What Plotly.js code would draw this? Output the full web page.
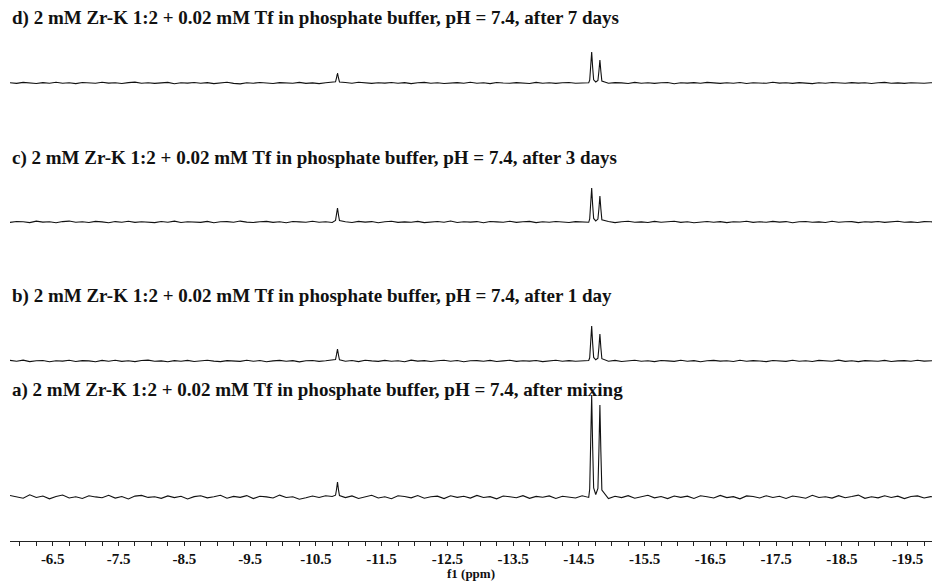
<!DOCTYPE html>
<html>
<head>
<meta charset="utf-8">
<script src="https://cdn.plot.ly/plotly-3.0.1.min.js"></script>
<style>html,body{margin:0;padding:0;background:#fff;}#chart{width:932px;height:581px;}</style>
</head>
<body>
<div id="chart"></div>
<script>
// chemical shift grid (ppm)
const ppm = [
-5.85,-5.95,-6.05,-6.15,-6.25,-6.35,-6.45,-6.55,-6.65,-6.75,-6.85,-6.95,-7.05,-7.15,-7.25,-7.35,-7.45,-7.55,-7.65,-7.75,-7.85,-7.95,-8.05,-8.15,-8.25,-8.35,-8.45,-8.55,-8.65,-8.75,-8.85,-8.95,-9.05,-9.15,-9.25,-9.35,-9.45,-9.55,-9.65,-9.75,-9.85,-9.95,-10.05,-10.15,-10.25,-10.35,-10.45,-10.55,-10.65,-10.75,
-10.80,-10.815,-10.83,-10.845,-10.86,
-10.95,-11.05,-11.15,-11.25,-11.35,-11.45,-11.55,-11.65,-11.75,-11.85,-11.95,-12.05,-12.15,-12.25,-12.35,-12.45,-12.55,-12.65,-12.75,-12.85,-12.95,-13.05,-13.15,-13.25,-13.35,-13.45,-13.55,-13.65,-13.75,-13.85,-13.95,-14.05,-14.15,-14.25,-14.35,-14.45,-14.55,-14.65,
-14.665,-14.68,-14.695,-14.71,-14.725,-14.757,-14.79,-14.805,-14.82,-14.835,-14.85,
-14.95,-15.05,-15.15,-15.25,-15.35,-15.45,-15.55,-15.65,-15.75,-15.85,-15.95,-16.05,-16.15,-16.25,-16.35,-16.45,-16.55,-16.65,-16.75,-16.85,-16.95,-17.05,-17.15,-17.25,-17.35,-17.45,-17.55,-17.65,-17.75,-17.85,-17.95,-18.05,-18.15,-18.25,-18.35,-18.45,-18.55,-18.65,-18.75,-18.85,-18.95,-19.05,-19.15,-19.25,-19.35,-19.45,-19.55,-19.65,-19.75,-19.85,-19.95
];

// intensities (arbitrary units)
const specD = [
0.3,-0.4,0.6,0.1,-0.5,0.4,-0.2,0.7,-0.3,0.2,-0.6,0.5,0.0,-0.3,0.8,-0.1,0.3,-0.5,0.4,0.9,-0.2,0.3,-0.4,0.1,0.6,-0.7,0.2,-0.1,0.5,-0.3,0.4,-0.6,0.2,0.7,-0.4,-0.9,0.3,-0.2,0.5,0.0,-0.5,0.4,0.2,-0.3,0.6,-0.4,0.1,-0.6,0.3,0.4,
1.2,5.2,10,5.0,1.0,
0.5,-0.2,0.8,0.3,-0.4,0.2,-0.1,0.5,-0.3,0.4,-0.6,0.2,0.6,-0.2,0.3,-0.5,0.1,0.4,-0.3,0.7,-0.2,0.2,-0.6,0.5,0.0,-0.3,0.4,0.1,-0.5,0.6,-0.2,0.3,-0.4,0.2,0.5,-0.3,0.1,0.3,
2.8,15.5,31,15.5,3.2,1.0,2.5,11.8,23,11.5,2.0,
-0.3,0.4,0.1,-0.5,0.6,-0.2,0.3,-0.4,0.2,0.5,-0.8,0.3,-0.1,0.4,-0.3,0.6,0.1,-0.4,0.2,-0.2,0.5,-0.5,0.3,0.0,-0.3,0.7,-0.1,0.2,-0.4,0.4,0.1,-0.6,0.3,-0.2,0.5,0.2,-0.3,0.4,-0.1,0.3,-0.5,0.2,0.6,-0.2,0.1,-0.4,0.3,0.0,-0.3,0.2,0.1
];
const specC = [
-0.4,0.5,0.2,-0.6,0.8,-0.1,0.3,-0.7,0.4,0.9,-0.3,0.2,-0.5,0.6,0.1,-0.8,0.4,-0.2,0.7,-0.4,0.3,0.0,-0.6,0.5,-0.2,0.8,-0.5,0.3,0.1,-0.4,0.6,-0.7,0.2,0.4,-0.3,0.9,-0.1,-0.5,0.3,0.6,-0.4,0.2,-0.8,0.5,0.1,-0.3,0.7,-0.2,0.3,-0.5,
1.6,7.3,14,7.0,1.4,
0.2,-0.5,0.6,-0.1,0.4,-0.7,0.3,0.8,-0.4,0.1,-0.3,0.6,-0.6,0.2,0.5,-0.2,0.9,-0.5,0.3,-0.1,0.4,-0.8,0.5,0.1,-0.3,0.7,-0.4,0.2,0.6,-0.6,0.3,-0.2,0.5,0.0,-0.5,0.4,0.2,-0.3,
3.0,17.2,34,17.0,3.5,1.1,2.9,13.3,26,13.0,2.2,
0.4,-0.6,0.3,0.7,-0.2,0.1,-0.5,0.6,-0.3,0.2,0.8,-0.4,0.3,-0.7,0.1,0.5,-0.2,0.4,-0.6,0.3,0.0,0.7,-0.4,0.2,-0.3,0.6,-0.1,0.4,-0.8,0.3,0.5,-0.2,0.1,-0.5,0.7,-0.3,0.2,0.4,-0.6,0.3,-0.1,0.5,-0.4,0.2,0.8,-0.3,0.1,-0.5,0.4,0.2,-0.2
];
const specB = [
0.6,-0.3,0.9,-0.6,0.2,0.5,-0.8,0.3,-0.1,0.7,-0.5,0.4,0.1,-0.7,0.6,-0.2,0.8,-0.4,0.2,-0.6,0.5,0.9,-0.3,0.1,-0.8,0.4,-0.2,0.6,-0.5,0.3,0.7,-0.1,-0.6,0.4,0.2,-0.4,0.8,-0.3,0.5,-0.7,0.1,0.6,-0.2,0.4,-0.9,0.3,0.5,-0.4,0.2,0.6,
1.4,6.3,12,6.0,1.2,
-0.3,0.5,-0.6,0.8,0.1,-0.4,0.6,-0.2,0.3,-0.7,0.9,-0.1,0.4,-0.5,0.2,0.7,-0.3,0.5,-0.8,0.2,0.4,-0.2,0.6,-0.5,0.1,0.8,-0.4,0.3,-0.1,0.5,-0.6,0.2,0.7,-0.3,0.4,-0.2,0.1,0.5,
3.2,17.8,35,17.6,3.6,1.2,2.9,13.5,27,13.2,2.3,
-0.2,0.6,-0.5,0.3,0.8,-0.3,0.2,-0.6,0.5,0.1,-0.4,0.7,-0.2,0.4,-0.7,0.3,0.6,-0.1,0.2,-0.5,0.8,-0.3,0.4,0.0,-0.6,0.5,0.2,-0.4,0.7,-0.2,0.3,-0.5,0.6,0.1,-0.3,0.9,-0.4,0.2,-0.6,0.4,0.3,-0.2,0.6,-0.5,0.1,0.4,-0.3,0.7,-0.1,0.2,0.4
];
const specA = [
1.5,0.4,-1.2,2.2,-0.5,1.0,-1.8,0.6,2.0,-0.9,0.3,-1.5,1.2,0.1,-0.7,1.8,-1.1,0.5,-2.0,0.9,1.6,-0.4,0.2,-1.3,1.1,-0.6,0.8,-1.9,0.4,1.3,-0.8,0.2,1.7,-1.2,0.6,-0.3,1.4,-1.6,0.7,0.1,-1.0,1.9,-0.5,0.3,-2.2,-0.8,1.0,-0.4,1.2,0.5,
1.8,7.5,15,7.2,1.5,
-0.6,1.1,-1.4,0.5,1.8,-0.9,0.3,-1.7,1.2,0.6,-0.8,1.5,-1.2,0.2,0.9,-1.6,1.3,-0.3,0.7,-1.1,1.6,-0.5,0.4,-1.8,1.0,0.2,-0.7,1.4,-1.3,0.6,-0.2,1.1,-1.5,0.8,0.3,-0.9,1.2,-0.4,
8.0,51,102,50,9.0,2.5,8.5,46,92,45,7.0,
-1.5,0.8,-0.6,1.4,-1.2,0.3,1.7,-0.8,0.5,-1.6,1.0,-0.3,0.9,-1.4,1.2,0.2,-1.0,1.6,-0.6,0.4,-1.8,1.1,0.6,-0.9,1.3,-0.4,0.7,-1.5,1.0,0.1,-1.2,1.8,-0.5,0.3,-1.1,1.4,-0.7,0.5,1.9,-1.3,0.2,-0.8,1.2,-0.5,0.9,-1.6,0.6,1.1,-0.9,0.4,-0.2
];

const labels = [
  "a) 2 mM Zr-K 1:2 + 0.02 mM Tf in phosphate buffer, pH = 7.4, after mixing",
  "b) 2 mM Zr-K 1:2 + 0.02 mM Tf in phosphate buffer, pH = 7.4, after 1 day",
  "c) 2 mM Zr-K 1:2 + 0.02 mM Tf in phosphate buffer, pH = 7.4, after 3 days",
  "d) 2 mM Zr-K 1:2 + 0.02 mM Tf in phosphate buffer, pH = 7.4, after 7 days"
];
const xTickVals = ["-6.5","-7.5","-8.5","-9.5","-10.5","-11.5","-12.5","-13.5","-14.5","-15.5","-16.5","-17.5","-18.5","-19.5"];

const spectra = [specA, specB, specC, specD];
const yNames = ['y','y2','y3','y4'];
const traces = spectra.map((s, i) => ({
  x: ppm, y: s, type: 'scatter', mode: 'lines',
  xaxis: 'x', yaxis: yNames[i],
  line: {color: '#111', width: 1.1},
  hoverinfo: 'skip', showlegend: false
}));

const serif = 'Liberation Serif, Times New Roman, serif';
const domains = [[0.0665, 0.2773], [0.3179, 0.4067], [0.5749, 0.6636], [0.8318, 0.9205]];
const ranges = [[-8, 106], [-8, 40], [-8, 40], [-8, 40]];
const titleY = [0.2791, 0.4529, 0.708, 0.9667];

const layout = {
  width: 932, height: 581,
  margin: {l: 10, r: 0, t: 0, b: 40},
  paper_bgcolor: '#fff', plot_bgcolor: '#fff',
  showlegend: false,
  xaxis: {
    range: [-5.85, -19.87],
    anchor: 'free', position: 0,
    showline: true, linecolor: '#222', linewidth: 1,
    showgrid: false, zeroline: false,
    ticks: 'outside', ticklen: 4, tickcolor: '#222', tickwidth: 1,
    tickmode: 'array', tickvals: xTickVals.map(Number), ticktext: xTickVals,
    minor: {dtick: 0.25, tick0: -6.5, ticks: 'outside', ticklen: 4, tickcolor: '#222', showgrid: false},
    tickfont: {family: serif, size: 15, color: '#111', weight: 700},
    title: {text: 'f1 (ppm)', font: {family: serif, size: 13, color: '#111', weight: 700}, standoff: 0}
  },
  annotations: labels.map((t, i) => ({
    text: t, xref: 'paper', yref: 'paper', x: 0, y: titleY[i],
    xanchor: 'left', yanchor: 'middle', showarrow: false,
    font: {family: serif, size: 19, color: '#111', weight: 700}
  }))
};
yNames.forEach((n, i) => {
  const key = i === 0 ? 'yaxis' : 'yaxis' + (i + 1);
  layout[key] = {domain: domains[i], range: ranges[i], visible: false, anchor: 'x', fixedrange: true};
});

Plotly.newPlot('chart', traces, layout, {displayModeBar: false, staticPlot: true});
</script>
</body>
</html>
